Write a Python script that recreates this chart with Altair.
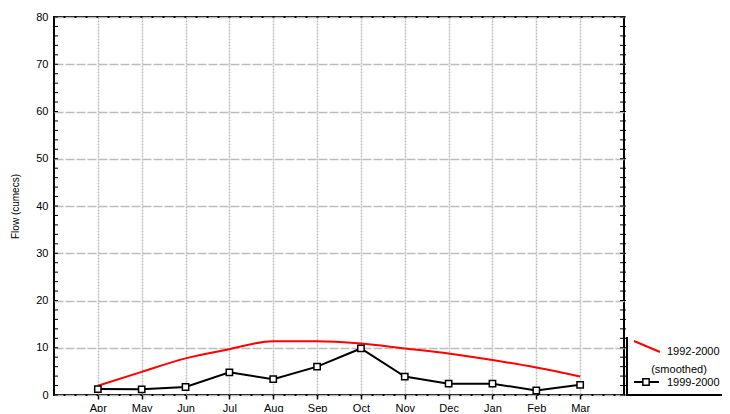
import altair as alt
import pandas as pd

months = ["Apr", "May", "Jun", "Jul", "Aug", "Sep", "Oct", "Nov", "Dec", "Jan", "Feb", "Mar"]
smoothed_9200 = [1.95, 4.9, 7.75, 9.7, 11.4, 11.4, 10.9, 9.85, 8.8, 7.4, 5.8, 3.9]
flow_9900 = [1.25, 1.2, 1.7, 4.8, 3.35, 6.0, 9.85, 3.9, 2.4, 2.4, 0.95, 2.15]
y_major = [0, 10, 20, 30, 40, 50, 60, 70, 80]
y_minor = list(range(0, 81, 2))

W, H = 570, 378
FONT = "Liberation Sans"

df = pd.DataFrame({"idx": list(range(1, 13)), "month": months,
                   "smooth": smoothed_9200, "flow": flow_9900})
minor_df = pd.DataFrame({"v": y_minor})
one = pd.DataFrame({"a": [0]})

label_expr = "[" + ",".join(["''"] + [f"'{m}'" for m in months] + ["''"]) + "][datum.value]"

xscale = alt.Scale(domain=[0, 13], nice=False, zero=False)
yscale = alt.Scale(domain=[0, 80], nice=False)

xenc = alt.X("idx:Q", scale=xscale,
             axis=alt.Axis(values=list(range(1, 13)), labelExpr=label_expr, title=None,
                           grid=True, gridColor="#bdbdbd", gridDash=[2, 1], gridWidth=1.5,
                           domain=False, ticks=True, tickSize=4, tickColor="black",
                           tickWidth=1.5, labelPadding=3, labelFontSize=11))
yenc_axis = alt.Axis(values=y_major, title="Flow (cumecs)", grid=True, gridColor="#bdbdbd",
                     gridDash=[9, 2], gridWidth=1.5, domain=False, ticks=False,
                     labelPadding=6, labelFontSize=11, titleFontSize=10,
                     titleFontWeight="normal", titlePadding=15)

base = alt.Chart(df)

red = base.mark_line(color="#ff0000", strokeWidth=2, interpolate="monotone").encode(
    x=xenc,
    y=alt.Y("smooth:Q", scale=yscale, axis=yenc_axis),
)

black_line = base.mark_line(color="black", strokeWidth=2).encode(
    x=alt.X("idx:Q", scale=xscale),
    y=alt.Y("flow:Q", scale=yscale),
)
black_pts = base.mark_point(shape="square", filled=True, fill="white", stroke="black",
                            strokeWidth=1.5, size=40, opacity=1).encode(
    x=alt.X("idx:Q", scale=xscale),
    y=alt.Y("flow:Q", scale=yscale),
)

left_ticks = alt.Chart(minor_df).mark_rule(color="black", strokeWidth=1).encode(
    y=alt.Y("v:Q", scale=yscale), x=alt.value(0), x2=alt.value(4))
right_ticks = alt.Chart(minor_df).mark_rule(color="black", strokeWidth=1).encode(
    y=alt.Y("v:Q", scale=yscale), x=alt.value(W - 4), x2=alt.value(W + 2))

# legend
leg_c = alt.Chart(one)
leg_left = leg_c.mark_rule(color="black", strokeWidth=2).encode(
    x=alt.value(573), y=alt.value(320), y2=alt.value(H + 1))
leg_bottom = leg_c.mark_rule(color="black", strokeWidth=2).encode(
    x=alt.value(573), x2=alt.value(680), y=alt.value(H))
leg_red = leg_c.mark_rule(color="#ff0000", strokeWidth=2).encode(
    x=alt.value(580), x2=alt.value(606), y=alt.value(324), y2=alt.value(335))
leg_txt1 = leg_c.mark_text(align="left", baseline="middle", font=FONT, fontSize=11).encode(
    x=alt.value(613), y=alt.value(335), text=alt.value("1992-2000"))
leg_txt2 = leg_c.mark_text(align="center", baseline="middle", font=FONT, fontSize=11).encode(
    x=alt.value(625), y=alt.value(353), text=alt.value("(smoothed)"))
leg_blk = leg_c.mark_rule(color="black", strokeWidth=2).encode(
    x=alt.value(580), x2=alt.value(605), y=alt.value(365))
leg_sq = leg_c.mark_point(shape="square", filled=True, fill="white", stroke="black",
                          strokeWidth=1.5, size=40, opacity=1).encode(
    x=alt.value(592), y=alt.value(365))
leg_txt3 = leg_c.mark_text(align="left", baseline="middle", font=FONT, fontSize=11).encode(
    x=alt.value(613), y=alt.value(366), text=alt.value("1999-2000"))

chart = alt.layer(
    red, black_line, black_pts, left_ticks, right_ticks,
    leg_left, leg_bottom, leg_red, leg_txt1, leg_txt2, leg_blk, leg_sq, leg_txt3,
).properties(
    width=W, height=H,
    autosize=alt.AutoSizeParams(type="none"),
    padding={"left": 46, "top": 9, "right": 98, "bottom": 17},
    background="white",
).configure_view(
    stroke="black", strokeWidth=2
).configure_axis(
    labelFont=FONT, titleFont=FONT, labelColor="black", titleColor="black"
)

chart.save("out.html", embed_options={"renderer": "svg", "actions": False})
